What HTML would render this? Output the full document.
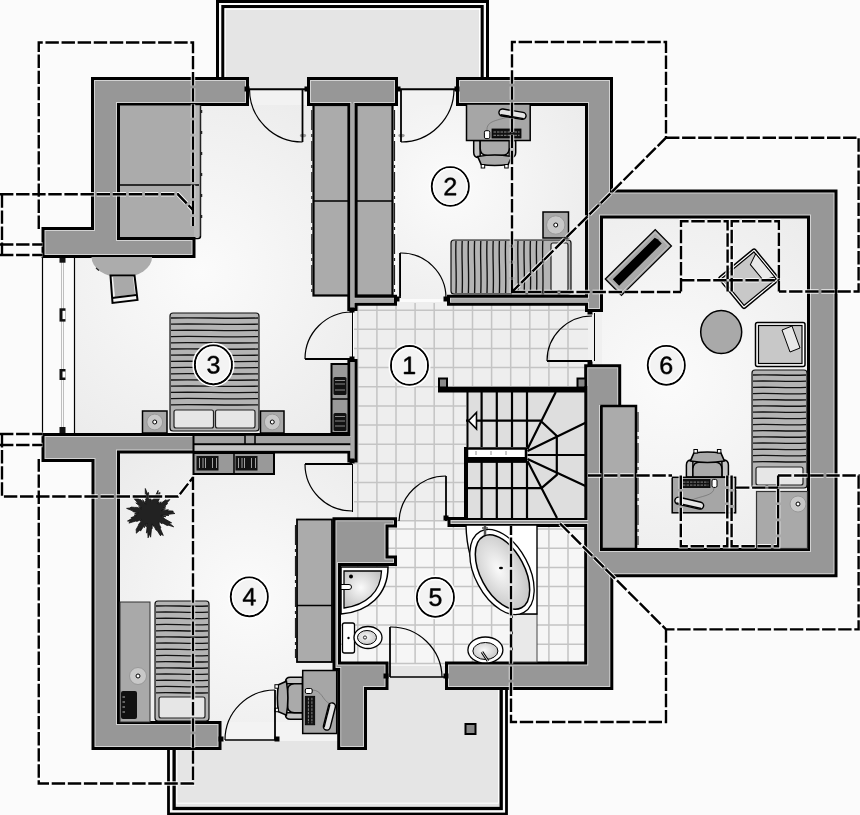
<!DOCTYPE html><html><head><meta charset="utf-8"><style>html,body{margin:0;padding:0;background:#fbfbfb;overflow:hidden;font-family:"Liberation Sans",sans-serif}svg{display:block}</style></head><body><svg width="860" height="815" viewBox="0 0 860 815">
<defs><radialGradient id="rg0" gradientUnits="userSpaceOnUse" cx="200" cy="272" r="210"><stop offset="0" stop-color="#fbfbfb"/><stop offset="0.25" stop-color="#f7f7f7"/><stop offset="1" stop-color="#ebebeb"/></radialGradient><radialGradient id="rg1" gradientUnits="userSpaceOnUse" cx="451" cy="186" r="160"><stop offset="0" stop-color="#fbfbfb"/><stop offset="0.25" stop-color="#f7f7f7"/><stop offset="1" stop-color="#ebebeb"/></radialGradient><radialGradient id="rg2" gradientUnits="userSpaceOnUse" cx="249" cy="597" r="190"><stop offset="0" stop-color="#fbfbfb"/><stop offset="0.25" stop-color="#f7f7f7"/><stop offset="1" stop-color="#ebebeb"/></radialGradient><radialGradient id="rg3" gradientUnits="userSpaceOnUse" cx="670" cy="380" r="220"><stop offset="0" stop-color="#fbfbfb"/><stop offset="0.25" stop-color="#f7f7f7"/><stop offset="1" stop-color="#ebebeb"/></radialGradient><radialGradient id="tub" cx="45%" cy="45%" r="60%"><stop offset="0" stop-color="#fafafa"/><stop offset="1" stop-color="#c4c4c4"/></radialGradient></defs>
<rect width="860" height="815" fill="#fbfbfb"/>
<rect x="217.5" y="1.5" width="270" height="90" fill="none" stroke="#000" stroke-width="3"/>
<rect x="222.8" y="6.5" width="259.4" height="95" fill="#e5e5e5" stroke="#000" stroke-width="3"/>
<rect x="168.5" y="650" width="338" height="164" fill="none" stroke="#000" stroke-width="2.8"/>
<rect x="174.1" y="650" width="327.1" height="158.5" fill="#e5e5e5" stroke="#000" stroke-width="3.3"/>
<rect x="176.8" y="650" width="321.7" height="153.2" fill="none" stroke="#fff" stroke-width="1"/>
<rect x="225.3" y="9.2" width="254.2" height="95" fill="none" stroke="#fff" stroke-width="1"/>
<rect x="117" y="103" width="235" height="332" fill="url(#rg0)"/>
<rect x="74" y="250" width="60" height="185" fill="url(#rg0)"/>
<rect x="397" y="103" width="192" height="196" fill="url(#rg1)"/>
<rect x="246" y="89" width="64" height="16" fill="#f2f2f2"/>
<rect x="395" y="89" width="64" height="16" fill="#f2f2f2"/>
<rect x="117" y="450" width="237" height="274" fill="url(#rg2)"/>
<rect x="219" y="722" width="125" height="19" fill="#f3f3f3"/>
<rect x="465.5" y="724" width="10" height="10" fill="#888" stroke="#000" stroke-width="2"/>
<rect x="598" y="214" width="214" height="338" fill="url(#rg3)"/>
<rect x="586" y="308" width="16" height="60" fill="#f0f0f0"/>
<rect x="354" y="302" width="234" height="222" fill="#eeeeee"/>
<rect x="338" y="520" width="250" height="146" fill="#f6f6f6"/>
<path d="M357.8,303V522 M376.9,303V522 M396.0,303V522 M415.1,303V522 M434.2,303V522 M453.4,303V522 M472.5,303V522 M491.6,303V522 M510.7,303V522 M529.8,303V522 M548.9,303V522 M568.0,303V522 M354,310.2H588 M354,329.3H588 M354,348.5H588 M354,367.6H588 M354,386.8H588 M354,405.9H588 M354,425.1H588 M354,444.2H588 M354,463.4H588 M354,482.5H588 M354,501.7H588 M354,520.8H588" stroke="#c4c4c4" stroke-width="1.5" fill="none"/>
<path d="M338.7,522V664 M357.8,522V664 M376.9,522V664 M396.0,522V664 M415.1,522V664 M434.2,522V664 M453.4,522V664 M472.5,522V664 M491.6,522V664 M510.7,522V664 M529.8,522V664 M548.9,522V664 M568.0,522V664 M338,529.0H588 M338,548.2H588 M338,567.4H588 M338,586.6H588 M338,605.8H588 M338,625.0H588 M338,644.2H588 M338,663.4H588" stroke="#c4c4c4" stroke-width="1.5" fill="none"/>
<path d="M42.5,255V434M74.5,255V434" stroke="#000" stroke-width="1.2" fill="none"/>
<path d="M61.5,258V432M63.5,258V432" stroke="#b0b0b0" stroke-width="0.8" fill="none"/>
<rect x="59.5" y="256" width="6" height="6.699999999999989" fill="#111"/>
<rect x="59.5" y="308.3" width="6" height="13.300000000000011" fill="#111"/>
<rect x="62.5" y="310.8" width="3" height="8.300000000000011" fill="#fff"/>
<rect x="59.5" y="369" width="6" height="11" fill="#111"/>
<rect x="62.5" y="371.5" width="3" height="6" fill="#fff"/>
<rect x="59.5" y="427" width="6" height="6" fill="#111"/>
<path d="M447.00,294.70L447.00,305.80L585.00,305.80L585.00,312.00L603.00,312.00L603.00,218.60L807.00,218.60L807.00,548.00L603.00,548.00L603.00,409.00L621.20,409.00L621.20,364.30L584.20,364.30L584.20,517.00L447.50,517.00L447.50,527.00L584.20,527.00L584.20,661.40L445.00,661.40L445.00,690.00L613.30,690.00L613.30,577.20L837.50,577.20L837.50,189.50L613.00,189.50L613.00,77.00L456.00,77.00L456.00,106.00L585.00,106.00L585.00,294.70ZM347.30,311.00L357.50,311.00L357.50,305.80L397.00,305.80L397.00,294.70L357.50,294.70L357.50,106.00L398.00,106.00L398.00,77.00L307.00,77.00L307.00,106.00L347.30,106.00ZM337.20,750.00L367.00,750.00L367.00,690.00L388.50,690.00L388.50,661.40L341.00,661.40L341.00,566.00L397.00,566.00L397.00,555.50L388.50,555.50L388.50,527.50L397.00,527.50L397.00,517.30L332.50,517.30L332.50,671.00L337.20,671.00ZM91.50,750.00L221.50,750.00L221.50,721.00L120.00,721.00L120.00,453.50L347.40,453.50L347.40,462.50L357.50,462.50L357.50,359.00L347.40,359.00L347.40,433.00L41.50,433.00L41.50,462.00L91.50,462.00ZM41.50,258.00L195.50,258.00L195.50,237.00L120.00,237.00L120.00,106.00L249.00,106.00L249.00,77.00L91.00,77.00L91.00,227.00L41.50,227.00Z" fill="#000" fill-rule="evenodd"/>
<path d="M350.30,308.00L354.50,308.00L354.50,302.80L394.00,302.80L394.00,297.70L354.50,297.70L354.50,103.00L395.00,103.00L395.00,80.00L310.00,80.00L310.00,103.00L350.30,103.00ZM44.50,255.00L192.50,255.00L192.50,240.00L117.00,240.00L117.00,103.00L246.00,103.00L246.00,80.00L94.00,80.00L94.00,230.00L44.50,230.00ZM450.00,297.70L450.00,302.80L588.00,302.80L588.00,309.00L600.00,309.00L600.00,215.60L810.00,215.60L810.00,551.00L600.00,551.00L600.00,406.00L618.20,406.00L618.20,367.30L587.20,367.30L587.20,520.00L450.50,520.00L450.50,524.00L587.20,524.00L587.20,664.40L448.00,664.40L448.00,687.00L610.30,687.00L610.30,574.20L834.50,574.20L834.50,192.50L610.00,192.50L610.00,80.00L459.00,80.00L459.00,103.00L588.00,103.00L588.00,297.70ZM94.50,747.00L218.50,747.00L218.50,724.00L117.00,724.00L117.00,450.50L350.40,450.50L350.40,459.50L354.50,459.50L354.50,362.00L350.40,362.00L350.40,436.00L44.50,436.00L44.50,459.00L94.50,459.00ZM340.20,747.00L364.00,747.00L364.00,687.00L385.50,687.00L385.50,664.40L338.00,664.40L338.00,563.00L394.00,563.00L394.00,558.50L385.50,558.50L385.50,524.50L394.00,524.50L394.00,520.30L335.50,520.30L335.50,668.00L340.20,668.00Z" fill="#d2d2d2" fill-rule="evenodd"/>
<path d="M451.00,298.70L451.00,301.80L589.00,301.80L589.00,308.00L599.00,308.00L599.00,214.60L811.00,214.60L811.00,552.00L599.00,552.00L599.00,405.00L617.20,405.00L617.20,368.30L588.20,368.30L588.20,521.00L451.50,521.00L451.50,523.00L588.20,523.00L588.20,665.40L449.00,665.40L449.00,686.00L609.30,686.00L609.30,573.20L833.50,573.20L833.50,193.50L609.00,193.50L609.00,81.00L460.00,81.00L460.00,102.00L589.00,102.00L589.00,298.70ZM351.30,307.00L353.50,307.00L353.50,301.80L393.00,301.80L393.00,298.70L353.50,298.70L353.50,102.00L394.00,102.00L394.00,81.00L311.00,81.00L311.00,102.00L351.30,102.00ZM341.20,746.00L363.00,746.00L363.00,686.00L384.50,686.00L384.50,665.40L337.00,665.40L337.00,562.00L393.00,562.00L393.00,559.50L384.50,559.50L384.50,523.50L393.00,523.50L393.00,521.30L336.50,521.30L336.50,667.00L341.20,667.00ZM95.50,746.00L217.50,746.00L217.50,725.00L116.00,725.00L116.00,449.50L351.40,449.50L351.40,458.50L353.50,458.50L353.50,363.00L351.40,363.00L351.40,437.00L45.50,437.00L45.50,458.00L95.50,458.00ZM45.50,254.00L191.50,254.00L191.50,241.00L116.00,241.00L116.00,102.00L245.00,102.00L245.00,81.00L95.00,81.00L95.00,231.00L45.50,231.00Z" fill="#979797" fill-rule="evenodd"/>
<rect x="193" y="436" width="157.4" height="14.5" fill="#a3a3a3"/>
<path d="M193,444.3H350.4" stroke="#000" stroke-width="2"/>
<rect x="193" y="445.5" width="157.4" height="5" fill="#c4c4c4"/>
<path d="M193.5,434V452" stroke="#000" stroke-width="2"/>
<rect x="245" y="435" width="10" height="9" fill="#a3a3a3" stroke="#000" stroke-width="1.5"/>
<rect x="350.8" y="104" width="3.4" height="204" fill="#a9a9a9"/>
<rect x="354" y="298.5" width="40" height="3.6" fill="#a9a9a9"/>
<rect x="451" y="298.5" width="137" height="3.6" fill="#a9a9a9"/>
<rect x="350.8" y="362" width="3.4" height="97" fill="#a9a9a9"/>
<rect x="120" y="105.5" width="80" height="131.5" fill="#ababab"/>
<rect x="194" y="105.5" width="6" height="131.5" fill="#b5b5b5"/>
<path d="M120,238.5H198Q200.5,238.5 200.5,236" stroke="#000" stroke-width="1.5" fill="none"/>
<path d="M120,185H199" stroke="#000" stroke-width="1.5"/>
<path d="M200.5,105V236" stroke="#222" stroke-width="1.5"/>
<path d="M201.5,110V236" stroke="#222" stroke-width="1.5" stroke-dasharray="3 18"/>
<rect x="313.5" y="105" width="35" height="190.5" fill="#ababab" stroke="#000" stroke-width="2.2"/>
<rect x="356.5" y="105" width="36" height="190.5" fill="#ababab" stroke="#000" stroke-width="2.2"/>
<path d="M313.5,201H348.5M356.5,201H392.5" stroke="#000" stroke-width="1.5"/>
<path d="M311.8,110V292M394.5,110V292" stroke="#222" stroke-width="1.2" stroke-dasharray="20 4 3 4"/>
<rect x="170" y="313" width="89" height="118" rx="3" fill="#b4b4b4" stroke="#111" stroke-width="1.2"/><path d="M171,318.0C196.7,317.2 223.4,318.8 258.0,318.0 M171,324.2C196.7,323.4 223.4,325.0 258.0,324.2 M171,330.4C196.7,329.6 223.4,331.2 258.0,330.4 M171,336.6C196.7,335.8 223.4,337.4 258.0,336.6 M171,342.8C196.7,342.0 223.4,343.6 258.0,342.8 M171,349.0C196.7,348.2 223.4,349.8 258.0,349.0 M171,355.2C196.7,354.4 223.4,356.0 258.0,355.2 M171,361.4C196.7,360.6 223.4,362.2 258.0,361.4 M171,367.6C196.7,366.8 223.4,368.4 258.0,367.6 M171,373.8C196.7,373.0 223.4,374.6 258.0,373.8 M171,380.0C196.7,379.2 223.4,380.8 258.0,380.0 M171,386.2C196.7,385.4 223.4,387.0 258.0,386.2 M171,392.4C196.7,391.6 223.4,393.2 258.0,392.4 M171,398.6C196.7,397.8 223.4,399.4 258.0,398.6 M171,404.8C196.7,404.0 223.4,405.6 258.0,404.8" stroke="#111" stroke-width="1.35" fill="none"/><rect x="174.0" y="410.0" width="39.5" height="18.0" rx="2" fill="#e6e6e6" stroke="#222" stroke-width="1.2"/><rect x="215.5" y="410.0" width="39.5" height="18.0" rx="2" fill="#e6e6e6" stroke="#222" stroke-width="1.2"/>
<rect x="142.5" y="411" width="24.5" height="22" fill="#a8a8a8" stroke="#000" stroke-width="1.5"/><circle cx="154.75" cy="422.0" r="7.9" fill="#c8c8c8" stroke="#999" stroke-width="1"/><circle cx="154.75" cy="422.0" r="2" fill="#fff" stroke="#000" stroke-width="1"/>
<rect x="260.5" y="411" width="23.5" height="22" fill="#a8a8a8" stroke="#000" stroke-width="1.5"/><circle cx="272.25" cy="422.0" r="7.9" fill="#c8c8c8" stroke="#999" stroke-width="1"/><circle cx="272.25" cy="422.0" r="2" fill="#fff" stroke="#000" stroke-width="1"/>
<rect x="331.5" y="364" width="17" height="69" fill="#999" stroke="#000" stroke-width="2"/>
<path d="M331.5,399H348.5" stroke="#000" stroke-width="1.5"/>
<rect x="333.5" y="377" width="13" height="18" rx="1.5" fill="#111"/>
<rect x="333.5" y="413" width="13" height="18" rx="1.5" fill="#111"/>
<path d="M335,380.5H345M335,384H345M335,390H345M335,416.5H345M335,421H345M335,426H345" stroke="#bbb" stroke-width="0.7"/>
<path d="M91.5,257A30.3,20.5 0 0 0 152.1,257Z" fill="#acacac"/>
<path d="M91.5,257A30.3,20.5 0 0 0 152.1,257" stroke="#222" stroke-width="1.2" fill="none" stroke-dasharray="0 12 4 18 3 12 4 40"/>
<path d="M110.5,275.5L134.5,275.5L137.5,300L112.5,303Z" fill="#f4f4f4" stroke="#000" stroke-width="2"/>
<path d="M113,277L133,277L135,294L115,297Z" fill="#a9a9a9"/>
<path d="M112,298L136,295" stroke="#000" stroke-width="1.8"/>
<g transform="translate(494.7 140.5) rotate(0)"><path d="M-21,0V12Q-21,17 -16,17H-14.5V0Z" fill="#c4c4c4" stroke="#000" stroke-width="1.5"/><path d="M21,0V12Q21,17 16,17H14.5V0Z" fill="#c4c4c4" stroke="#000" stroke-width="1.5"/><path d="M-14.5,0V8Q-14.5,15 -7,15H7Q14.5,15 14.5,8V0Z" fill="#aaa" stroke="#000" stroke-width="1.5"/><path d="M-17,16Q0,13 17,16L13.5,24Q0,26 -13.5,24Z" fill="#aaa" stroke="#000" stroke-width="1.6"/><rect x="-13.5" y="24" width="3.5" height="3.5" fill="#fff" stroke="#000" stroke-width="1"/><rect x="10" y="24" width="3.5" height="3.5" fill="#fff" stroke="#000" stroke-width="1"/></g>
<rect x="466.5" y="104" width="63.7" height="36.5" fill="#a6a6a6" stroke="#000" stroke-width="1.5"/>
<path d="M487,131C486,120 498,121 510,116" stroke="#666" stroke-width="0.6" fill="none"/>
<rect x="492" y="129" width="29" height="9" fill="#111" stroke="#000" stroke-width="0.8"/><path d="M493.5,132.0H519.5M493.5,135.3H519.5" stroke="#bbb" stroke-width="0.7" stroke-dasharray="2.5 1"/>
<rect x="484.4" y="130.7" width="5.4" height="7.9" rx="1.5" fill="#fff" stroke="#000" stroke-width="1"/>
<g transform="translate(512.5 114.2) rotate(9.5)"><rect x="-13.7" y="-3.5" width="27.4" height="7.0" rx="3.5" fill="#e4e4e4" stroke="#000" stroke-width="1.4"/><path d="M-11.7,2.5H11.7" stroke="#000" stroke-width="1.4"/></g>
<rect x="543" y="212" width="25.5" height="26" fill="#a8a8a8" stroke="#000" stroke-width="1.5"/><circle cx="555.75" cy="225.0" r="9.2" fill="#c8c8c8" stroke="#999" stroke-width="1"/><circle cx="555.75" cy="225.0" r="2" fill="#fff" stroke="#000" stroke-width="1"/>
<rect x="451" y="240" width="120" height="54" rx="3" fill="#b4b4b4" stroke="#111" stroke-width="1.2"/><path d="M456.0,241C455.2,256.2 456.8,272.4 456.0,293 M462.2,241C461.4,256.2 463.0,272.4 462.2,293 M468.4,241C467.6,256.2 469.2,272.4 468.4,293 M474.6,241C473.8,256.2 475.4,272.4 474.6,293 M480.8,241C480.0,256.2 481.6,272.4 480.8,293 M487.0,241C486.2,256.2 487.8,272.4 487.0,293 M493.2,241C492.4,256.2 494.0,272.4 493.2,293 M499.4,241C498.6,256.2 500.2,272.4 499.4,293 M505.6,241C504.8,256.2 506.4,272.4 505.6,293 M511.8,241C511.0,256.2 512.6,272.4 511.8,293 M518.0,241C517.2,256.2 518.8,272.4 518.0,293 M524.2,241C523.4,256.2 525.0,272.4 524.2,293 M530.4,241C529.6,256.2 531.2,272.4 530.4,293 M536.6,241C535.8,256.2 537.4,272.4 536.6,293 M542.8,241C542.0,256.2 543.6,272.4 542.8,293" stroke="#111" stroke-width="1.35" fill="none"/><rect x="551.0" y="243" width="17.0" height="48" rx="2" fill="#e6e6e6" stroke="#222" stroke-width="1.2"/>
<rect x="193.5" y="453" width="80.5" height="21" fill="#999" stroke="#000" stroke-width="2"/>
<path d="M234,453V474" stroke="#000" stroke-width="1.5"/>
<rect x="196.5" y="456" width="22" height="14.5" fill="#111"/>
<path d="M199.5,458V468M203.0,458V468M205.5,458V468M212.5,458V468M216.5,458V468" stroke="#ddd" stroke-width="0.7"/>
<rect x="235.5" y="456" width="22" height="14.5" fill="#111"/>
<path d="M238.5,458V468M242.0,458V468M244.5,458V468M251.5,458V468M255.5,458V468" stroke="#ddd" stroke-width="0.7"/>
<polygon points="174.9,513.5 167.4,514.4 169.0,515.4 161.3,515.2 165.9,516.7 160.5,516.2 163.9,517.8 164.5,518.8 171.6,522.8 169.0,522.9 173.7,526.8 168.7,525.3 167.1,525.5 162.1,522.8 162.1,523.8 158.6,521.5 159.4,523.3 159.0,523.9 160.9,527.7 160.0,527.9 163.3,535.5 161.0,534.0 160.6,535.9 157.0,530.3 156.0,530.1 154.0,526.1 153.3,526.2 152.2,523.9 152.2,528.4 151.4,529.7 150.6,537.2 149.5,533.8 148.1,537.8 147.7,531.8 146.4,533.0 147.2,526.1 146.3,526.9 147.0,523.0 144.3,527.7 145.4,523.7 140.5,531.1 139.9,530.0 136.3,533.2 136.3,531.2 136.1,529.6 138.2,525.9 138.8,524.1 141.7,520.7 140.1,521.1 141.2,519.6 136.9,521.4 135.9,521.0 128.9,523.1 130.3,521.3 127.5,521.0 131.8,518.5 131.1,517.6 136.3,515.8 134.1,515.2 137.7,514.2 134.7,513.5 138.4,512.9 132.9,511.6 132.1,510.6 126.6,508.4 130.0,508.0 131.0,507.1 134.7,507.4 136.9,507.4 141.4,508.8 138.7,506.7 141.3,507.5 135.8,502.8 138.8,503.9 133.8,498.4 134.8,497.7 134.0,495.1 139.3,499.5 140.5,499.5 144.1,503.4 142.6,499.7 145.9,504.2 145.1,501.1 146.2,501.9 144.8,495.7 145.3,493.6 145.3,488.5 147.5,493.8 148.4,492.4 149.9,499.7 150.6,497.5 151.2,501.4 152.1,499.5 152.6,500.7 153.9,498.1 155.3,495.9 158.1,490.4 157.9,494.4 160.0,492.4 159.5,496.1 160.5,496.4 157.3,503.2 159.1,501.8 158.3,503.9 161.1,501.8 160.0,504.1 165.9,499.7 166.8,500.4 169.8,499.6 167.1,502.8 167.5,503.8 163.6,506.9 165.9,506.7 162.4,509.0 165.4,508.7 161.1,510.7 168.4,509.7 167.4,510.8 173.2,511.1 172.8,512.3" fill="#222" stroke="#111" stroke-width="0.8"/>
<rect x="120" y="602" width="30" height="120" fill="#a9a9a9" stroke="#333" stroke-width="1"/>
<circle cx="138" cy="676" r="8.5" fill="#c8c8c8" stroke="#999" stroke-width="1"/><circle cx="138" cy="676" r="2" fill="#fff" stroke="#000" stroke-width="1"/>
<rect x="121" y="691" width="16" height="28" rx="2" fill="#111"/>
<path d="M122.5,697H125M122.5,702H125M122.5,707H125M122.5,712H125" stroke="#ddd" stroke-width="0.8"/>
<rect x="155" y="601" width="54" height="120" rx="3" fill="#b4b4b4" stroke="#111" stroke-width="1.2"/><path d="M156,606.0C171.2,605.2 187.4,606.8 208.0,606.0 M156,612.2C171.2,611.4 187.4,613.0 208.0,612.2 M156,618.4C171.2,617.6 187.4,619.2 208.0,618.4 M156,624.6C171.2,623.8 187.4,625.4 208.0,624.6 M156,630.8C171.2,630.0 187.4,631.6 208.0,630.8 M156,637.0C171.2,636.2 187.4,637.8 208.0,637.0 M156,643.2C171.2,642.4 187.4,644.0 208.0,643.2 M156,649.4C171.2,648.6 187.4,650.2 208.0,649.4 M156,655.6C171.2,654.8 187.4,656.4 208.0,655.6 M156,661.8C171.2,661.0 187.4,662.6 208.0,661.8 M156,668.0C171.2,667.2 187.4,668.8 208.0,668.0 M156,674.2C171.2,673.4 187.4,675.0 208.0,674.2 M156,680.4C171.2,679.6 187.4,681.2 208.0,680.4 M156,686.6C171.2,685.8 187.4,687.4 208.0,686.6 M156,692.8C171.2,692.0 187.4,693.6 208.0,692.8" stroke="#111" stroke-width="1.35" fill="none"/><rect x="159.0" y="697.0" width="46.0" height="21.0" rx="2" fill="#e6e6e6" stroke="#222" stroke-width="1.2"/>
<rect x="297" y="519.5" width="35" height="142.5" fill="#ababab" stroke="#000" stroke-width="1.8"/>
<path d="M297,605.6H332" stroke="#000" stroke-width="1.5"/>
<path d="M295.5,525V658" stroke="#222" stroke-width="1.2" stroke-dasharray="20 4 3 4"/>
<g transform="translate(302.4 698.2) rotate(90)"><path d="M-21,0V12Q-21,17 -16,17H-14.5V0Z" fill="#c4c4c4" stroke="#000" stroke-width="1.5"/><path d="M21,0V12Q21,17 16,17H14.5V0Z" fill="#c4c4c4" stroke="#000" stroke-width="1.5"/><path d="M-14.5,0V8Q-14.5,15 -7,15H7Q14.5,15 14.5,8V0Z" fill="#aaa" stroke="#000" stroke-width="1.5"/><path d="M-17,16Q0,13 17,16L13.5,24Q0,26 -13.5,24Z" fill="#aaa" stroke="#000" stroke-width="1.6"/><rect x="-13.5" y="24" width="3.5" height="3.5" fill="#fff" stroke="#000" stroke-width="1"/><rect x="10" y="24" width="3.5" height="3.5" fill="#fff" stroke="#000" stroke-width="1"/></g>
<rect x="302.7" y="670.5" width="34" height="63" fill="#a6a6a6" stroke="#000" stroke-width="1.5"/>
<path d="M312,690C322,690 322,700 330,704" stroke="#666" stroke-width="0.6" fill="none"/>
<rect x="305.3" y="696.3" width="9.4" height="28.5" fill="#111" stroke="#000" stroke-width="0.8"/><path d="M308.4,697.8V723.3M311.9,697.8V723.3" stroke="#bbb" stroke-width="0.7" stroke-dasharray="2.5 1"/>
<rect x="305.3" y="688.5" width="6.9" height="5" rx="1.5" fill="#fff" stroke="#000" stroke-width="1"/>
<g transform="translate(329.4 716.5) rotate(104.1)"><rect x="-13.9" y="-3.5" width="27.8" height="7.0" rx="3.5" fill="#e4e4e4" stroke="#000" stroke-width="1.4"/><path d="M-11.9,2.5H11.9" stroke="#000" stroke-width="1.4"/></g>
<path d="M341,567H388C388,595 368,612 341,614Z" fill="#fff" stroke="#000" stroke-width="1.5"/>
<path d="M344,571H381.5C381,592 366,605 344,608Z" fill="url(#tub)" stroke="#000" stroke-width="1.3"/>
<circle cx="351" cy="576.5" r="2" fill="#000"/>
<path d="M341,584.5H349A2.5,2.5 0 0 1 349,589.5H341Z" fill="#fff" stroke="#000" stroke-width="1"/>
<rect x="342.5" y="623" width="12" height="30" rx="2" fill="#fff" stroke="#000" stroke-width="1.3"/>
<ellipse cx="368" cy="637.5" rx="14" ry="11" fill="#fff" stroke="#000" stroke-width="1.3"/>
<ellipse cx="367" cy="637.5" rx="9.5" ry="7" fill="url(#tub)" stroke="#000" stroke-width="1"/>
<circle cx="348.5" cy="638" r="1.2" fill="#000"/><circle cx="365" cy="637.5" r="1.6" fill="none" stroke="#000" stroke-width="0.8"/>
<defs><clipPath id="tubclip"><rect x="466" y="525" width="71" height="91"/></clipPath></defs>
<rect x="512.5" y="614" width="24.5" height="48" fill="#e9e9e9" stroke="#444" stroke-width="1"/>
<path d="M466,525H537V614H512C490,600 467,572 466,525Z" fill="#fff" stroke="#000" stroke-width="1.4"/>
<g clip-path="url(#tubclip)"><ellipse cx="502" cy="572" rx="27" ry="46" transform="rotate(-28 502 572)" fill="#fff" stroke="#000" stroke-width="1.3"/></g>
<ellipse cx="502.5" cy="572" rx="22" ry="40.5" transform="rotate(-28 502.5 572)" fill="url(#tub)" stroke="#000" stroke-width="1.5"/>
<ellipse cx="501" cy="568" rx="2" ry="1.3" fill="#000"/>
<path d="M485,526V535" stroke="#555" stroke-width="2.5"/><path d="M482,528H488" stroke="#555" stroke-width="1.5"/>
<ellipse cx="485.4" cy="650" rx="17.5" ry="13" fill="#fff" stroke="#000" stroke-width="1.3"/>
<ellipse cx="485.4" cy="651" rx="12.5" ry="8.5" fill="url(#tub)" stroke="#000" stroke-width="1"/>
<path d="M482,652L488,661" stroke="#000" stroke-width="2.8"/><path d="M482,652L488,661" stroke="#ddd" stroke-width="1"/>
<rect x="601.5" y="406" width="34.5" height="143" fill="#ababab" stroke="#000" stroke-width="2.5"/>
<path d="M638,412V545" stroke="#222" stroke-width="1.2" stroke-dasharray="20 4 3 4"/>
<g transform="translate(638.35 262.45) rotate(-44.7)"><rect x="-35.15" y="-11.5" width="70.3" height="23" fill="#a9a9a9" stroke="#000" stroke-width="1.3"/><path d="M-30,-6H29L30,-3V3H-30Z" fill="#000"/><rect x="-33" y="-9.5" width="66" height="19" fill="none" stroke="#ddd" stroke-width="0.6"/></g>
<g transform="translate(749 278.7) rotate(50.5)"><rect x="-20.1" y="-23.4" width="40.2" height="46.8" rx="2" fill="#fff" stroke="#000" stroke-width="1.5"/><rect x="-17.5" y="-20.8" width="35" height="41.6" fill="#c8c8c8" stroke="#000" stroke-width="1.2"/><path d="M-15,-21L-10,-10L10,-10L15,-21Z" fill="#e8e8e8" stroke="#000" stroke-width="1"/></g>
<ellipse cx="721.2" cy="332.1" rx="20.5" ry="21.5" fill="#a9a9a9" stroke="#000" stroke-width="1.5"/>
<rect x="755.5" y="322.5" width="49.5" height="44" rx="2" fill="#fff" stroke="#000" stroke-width="1.5"/><rect x="758.5" y="325.5" width="43.5" height="38" fill="#c8c8c8" stroke="#000" stroke-width="1.2"/>
<path d="M782,330L792,326L800,348L790,352Z" fill="#e8e8e8" stroke="#000" stroke-width="1"/>
<rect x="752" y="370" width="55" height="118" rx="3" fill="#b4b4b4" stroke="#111" stroke-width="1.2"/><path d="M753,375.0C768.5,374.2 785.0,375.8 806.0,375.0 M753,381.2C768.5,380.4 785.0,382.0 806.0,381.2 M753,387.4C768.5,386.6 785.0,388.2 806.0,387.4 M753,393.6C768.5,392.8 785.0,394.4 806.0,393.6 M753,399.8C768.5,399.0 785.0,400.6 806.0,399.8 M753,406.0C768.5,405.2 785.0,406.8 806.0,406.0 M753,412.2C768.5,411.4 785.0,413.0 806.0,412.2 M753,418.4C768.5,417.6 785.0,419.2 806.0,418.4 M753,424.6C768.5,423.8 785.0,425.4 806.0,424.6 M753,430.8C768.5,430.0 785.0,431.6 806.0,430.8 M753,437.0C768.5,436.2 785.0,437.8 806.0,437.0 M753,443.2C768.5,442.4 785.0,444.0 806.0,443.2 M753,449.4C768.5,448.6 785.0,450.2 806.0,449.4 M753,455.6C768.5,454.8 785.0,456.4 806.0,455.6 M753,461.8C768.5,461.0 785.0,462.6 806.0,461.8" stroke="#111" stroke-width="1.35" fill="none"/><rect x="756.0" y="467.0" width="47.0" height="18.0" rx="2" fill="#e6e6e6" stroke="#222" stroke-width="1.2"/>
<rect x="756.5" y="491.5" width="51" height="57" fill="#a9a9a9" stroke="#333" stroke-width="1.2"/>
<circle cx="798" cy="504" r="8" fill="#c8c8c8" stroke="#999" stroke-width="1"/><circle cx="798" cy="504" r="2" fill="#fff" stroke="#000" stroke-width="1"/>
<g transform="translate(707.4 477) rotate(180)"><path d="M-21,0V12Q-21,17 -16,17H-14.5V0Z" fill="#c4c4c4" stroke="#000" stroke-width="1.5"/><path d="M21,0V12Q21,17 16,17H14.5V0Z" fill="#c4c4c4" stroke="#000" stroke-width="1.5"/><path d="M-14.5,0V8Q-14.5,15 -7,15H7Q14.5,15 14.5,8V0Z" fill="#aaa" stroke="#000" stroke-width="1.5"/><path d="M-17,16Q0,13 17,16L13.5,24Q0,26 -13.5,24Z" fill="#aaa" stroke="#000" stroke-width="1.6"/><rect x="-13.5" y="24" width="3.5" height="3.5" fill="#fff" stroke="#000" stroke-width="1"/><rect x="10" y="24" width="3.5" height="3.5" fill="#fff" stroke="#000" stroke-width="1"/></g>
<rect x="672.2" y="477.3" width="63.4" height="35.5" fill="#a6a6a6" stroke="#000" stroke-width="1.5"/>
<path d="M714,488C714,496 700,496 692,500" stroke="#666" stroke-width="0.6" fill="none"/>
<rect x="681.5" y="479.4" width="28.5" height="8.2" fill="#111" stroke="#000" stroke-width="0.8"/><path d="M683.0,482.1H708.5M683.0,485.1H708.5" stroke="#bbb" stroke-width="0.7" stroke-dasharray="2.5 1"/>
<rect x="712" y="479.4" width="5" height="8" rx="1.5" fill="#fff" stroke="#000" stroke-width="1"/>
<g transform="translate(689.3 503.2) rotate(12.8)"><rect x="-14.7" y="-3.5" width="29.3" height="7.0" rx="3.5" fill="#e4e4e4" stroke="#000" stroke-width="1.4"/><path d="M-12.7,2.5H12.7" stroke="#000" stroke-width="1.4"/></g>
<rect x="466" y="392" width="120" height="126" fill="#dedede"/>
<path d="M481.6,392V447M481.6,462V518 M496.8,392V447M496.8,462V518 M512,392V447M512,462V518 M527,392V447M527,462V518 M466,420.7H541M466,488.2H541.5" stroke="#000" stroke-width="2.2" fill="none"/>
<path d="M527.5,449L555.8,392 M527.5,451L586,422.6 M527.5,455H586 M527.5,459L586,486.3 M527.5,461L557,518 M540.6,420.7L556.8,435.9V474.9L541.5,488.2" stroke="#000" stroke-width="2.2" fill="none"/>
<path d="M466,447V518" stroke="#000" stroke-width="4"/>
<path d="M467.5,392V447" stroke="#000" stroke-width="2"/>
<rect x="467" y="448.5" width="59" height="13" fill="#fff" stroke="#000" stroke-width="2.5"/>
<rect x="466" y="457" width="61" height="5.5" fill="#000"/>
<path d="M476,451V455M491,451V455M506,451V455" stroke="#777" stroke-width="0.8"/>
<rect x="438" y="386.8" width="149" height="5.7" fill="#000"/>
<rect x="439" y="378.5" width="8" height="9" fill="#888" stroke="#000" stroke-width="2"/>
<rect x="577.5" y="378.5" width="8" height="9" fill="#888" stroke="#000" stroke-width="2"/>
<path d="M585.8,386V520" stroke="#000" stroke-width="3"/>
<path d="M468.5,420.7L476.5,412.5V429Z" fill="#fff" stroke="#000" stroke-width="1.6"/>
<path d="M249,89.3H305M398,89.3H456" stroke="#000" stroke-width="2"/>
<ellipse cx="303" cy="135.5" rx="3.2" ry="1.8" fill="#999"/><ellipse cx="401.5" cy="135.5" rx="3.2" ry="1.8" fill="#999"/>
<path d="M302.5,89L302.5,142" stroke="#000" stroke-width="1.8" fill="none"/><path d="M302.5,142A53,53 0 0 1 249.5,89" stroke="#000" stroke-width="1.2" fill="none"/>
<path d="M401,89L401,142" stroke="#000" stroke-width="1.8" fill="none"/><path d="M401,142A53,53 0 0 0 454,89" stroke="#000" stroke-width="1.2" fill="none"/>
<path d="M352,359L305,359" stroke="#000" stroke-width="1.8" fill="none"/><path d="M305,359A47,47 0 0 1 352,312" stroke="#000" stroke-width="1.2" fill="none"/>
<path d="M400,298L400,253" stroke="#000" stroke-width="1.8" fill="none"/><path d="M400,253A45,45 0 0 1 446,298" stroke="#000" stroke-width="1.2" fill="none"/>
<path d="M592,361L547,361" stroke="#000" stroke-width="1.8" fill="none"/><path d="M547,361A45,45 0 0 1 592,316" stroke="#000" stroke-width="1.2" fill="none"/>
<path d="M352,464L305,464" stroke="#000" stroke-width="1.8" fill="none"/><path d="M305,464A47,47 0 0 0 352,511" stroke="#000" stroke-width="1.2" fill="none"/>
<path d="M446,521L446,476" stroke="#000" stroke-width="1.8" fill="none"/><path d="M446,476A47,47 0 0 0 399,521" stroke="#000" stroke-width="1.2" fill="none"/>
<path d="M275,740L275,690" stroke="#000" stroke-width="1.8" fill="none"/><path d="M275,690A50,50 0 0 0 225,740" stroke="#000" stroke-width="1.2" fill="none"/>
<path d="M390,677L390,627" stroke="#000" stroke-width="1.8" fill="none"/><path d="M390,627A51,51 0 0 1 442,677" stroke="#000" stroke-width="1.2" fill="none"/>
<path d="M352.5,312V358M352.5,464V512M594.5,313V361M400.5,253V296" stroke="#000" stroke-width="1" fill="none"/>
<path d="M225,740H275M390,677H445" stroke="#000" stroke-width="1.5"/>
<rect x="349.5" y="307.5" width="5" height="5" fill="#000"/>
<rect x="349.5" y="356.5" width="5" height="5" fill="#000"/>
<rect x="349.5" y="458.5" width="5" height="5" fill="#000"/>
<rect x="244.5" y="86.5" width="5" height="5" fill="#000"/>
<rect x="395.5" y="86.5" width="5" height="5" fill="#000"/>
<rect x="454.5" y="86.5" width="5" height="5" fill="#000"/>
<rect x="304.5" y="86.5" width="5" height="5" fill="#000"/>
<rect x="443.5" y="296.5" width="5" height="5" fill="#000"/>
<rect x="394.5" y="296.5" width="5" height="5" fill="#000"/>
<rect x="587.5" y="309.5" width="5" height="5" fill="#000"/>
<rect x="587.5" y="361.5" width="5" height="5" fill="#000"/>
<rect x="218.5" y="736.5" width="5" height="5" fill="#000"/>
<rect x="274.5" y="736.5" width="5" height="5" fill="#000"/>
<rect x="443.5" y="515.5" width="5" height="5" fill="#000"/>
<rect x="383.5" y="673.5" width="5" height="5" fill="#000"/>
<rect x="443.5" y="673.5" width="5" height="5" fill="#000"/>
<path d="M38.75,229V42.5H193V226" stroke="#fff" stroke-opacity="0.85" stroke-width="4.4" fill="none" stroke-dasharray="13.4 2.7"/>
<path d="M0,194.3H178L193,210" stroke="#fff" stroke-opacity="0.85" stroke-width="4.4" fill="none" stroke-dasharray="13.4 2.7"/>
<path d="M2,194.3V255M0,244.5H42.5M0,255H42.5" stroke="#fff" stroke-opacity="0.85" stroke-width="4.4" fill="none" stroke-dasharray="13.4 2.7"/>
<path d="M0,434H42.5M0,445H42.5M2,434V496.5H178L193,477.5" stroke="#fff" stroke-opacity="0.85" stroke-width="4.4" fill="none" stroke-dasharray="13.4 2.7"/>
<path d="M193,476.7V783.5H38.75V459" stroke="#fff" stroke-opacity="0.85" stroke-width="4.4" fill="none" stroke-dasharray="13.4 2.7"/>
<path d="M512,293V42H666V137.7L512,292" stroke="#fff" stroke-opacity="0.85" stroke-width="4.4" fill="none" stroke-dasharray="13.4 2.7"/>
<path d="M666,137.7H858.6V291.5H779" stroke="#fff" stroke-opacity="0.85" stroke-width="4.4" fill="none" stroke-dasharray="13.4 2.7"/>
<path d="M512,292H681" stroke="#fff" stroke-opacity="0.85" stroke-width="4.4" fill="none" stroke-dasharray="13.4 2.7"/>
<path d="M681,291.5V221.3H727.6V291.5M731.7,291.5V221.3H778.9V291.5M681,280.2H778.9" stroke="#fff" stroke-opacity="0.85" stroke-width="4.4" fill="none" stroke-dasharray="13.4 2.7"/>
<path d="M588,475.5H672M778,475.5H858.6V629.4H666L558,521.5" stroke="#fff" stroke-opacity="0.85" stroke-width="4.4" fill="none" stroke-dasharray="13.4 2.7"/>
<path d="M666,629.4V722H511V526" stroke="#fff" stroke-opacity="0.85" stroke-width="4.4" fill="none" stroke-dasharray="13.4 2.7"/>
<path d="M680.8,475.5V546.2H727.3V475.5M731.6,475.5V546.2H778.1V475.5M736,487.6H778" stroke="#fff" stroke-opacity="0.85" stroke-width="4.4" fill="none" stroke-dasharray="13.4 2.7"/>
<path d="M38.75,229V42.5H193V226" stroke="#000" stroke-width="2.4" fill="none" stroke-dasharray="13.4 2.7"/>
<path d="M0,194.3H178L193,210" stroke="#000" stroke-width="2.4" fill="none" stroke-dasharray="13.4 2.7"/>
<path d="M2,194.3V255M0,244.5H42.5M0,255H42.5" stroke="#000" stroke-width="2.4" fill="none" stroke-dasharray="13.4 2.7"/>
<path d="M0,434H42.5M0,445H42.5M2,434V496.5H178L193,477.5" stroke="#000" stroke-width="2.4" fill="none" stroke-dasharray="13.4 2.7"/>
<path d="M193,476.7V783.5H38.75V459" stroke="#000" stroke-width="2.4" fill="none" stroke-dasharray="13.4 2.7"/>
<path d="M512,293V42H666V137.7L512,292" stroke="#000" stroke-width="2.4" fill="none" stroke-dasharray="13.4 2.7"/>
<path d="M666,137.7H858.6V291.5H779" stroke="#000" stroke-width="2.4" fill="none" stroke-dasharray="13.4 2.7"/>
<path d="M512,292H681" stroke="#000" stroke-width="2.4" fill="none" stroke-dasharray="13.4 2.7"/>
<path d="M681,291.5V221.3H727.6V291.5M731.7,291.5V221.3H778.9V291.5M681,280.2H778.9" stroke="#000" stroke-width="2.4" fill="none" stroke-dasharray="13.4 2.7"/>
<path d="M588,475.5H672M778,475.5H858.6V629.4H666L558,521.5" stroke="#000" stroke-width="2.4" fill="none" stroke-dasharray="13.4 2.7"/>
<path d="M666,629.4V722H511V526" stroke="#000" stroke-width="2.4" fill="none" stroke-dasharray="13.4 2.7"/>
<path d="M680.8,475.5V546.2H727.3V475.5M731.6,475.5V546.2H778.1V475.5M736,487.6H778" stroke="#000" stroke-width="2.4" fill="none" stroke-dasharray="13.4 2.7"/>
<ellipse cx="213.4" cy="364.8" rx="20.3" ry="21.2" fill="none" stroke="#fff" stroke-width="1.6"/>
<ellipse cx="213.4" cy="364.8" rx="18.5" ry="19.4" fill="#f3f3f3" stroke="#000" stroke-width="1.9"/>
<ellipse cx="213.4" cy="364.8" rx="16.8" ry="17.7" fill="none" stroke="#fff" stroke-width="1.4"/>
<path d="M1049 389Q1049 194 925.0 87.0Q801 -20 571 -20Q357 -20 229.5 76.5Q102 173 78 362L264 379Q300 129 571 129Q707 129 784.5 196.0Q862 263 862 395Q862 510 773.5 574.5Q685 639 518 639H416V795H514Q662 795 743.5 859.5Q825 924 825 1038Q825 1151 758.5 1216.5Q692 1282 561 1282Q442 1282 368.5 1221.0Q295 1160 283 1049L102 1063Q122 1236 245.5 1333.0Q369 1430 563 1430Q775 1430 892.5 1331.5Q1010 1233 1010 1057Q1010 922 934.5 837.5Q859 753 715 723V719Q873 702 961.0 613.0Q1049 524 1049 389Z" transform="translate(213.4,364.8) scale(0.01217,-0.01217) translate(-563.5,-705.0)" fill="#000" stroke="#000" stroke-width="45.2" stroke-linejoin="round"/>
<ellipse cx="450.3" cy="186.5" rx="20.3" ry="21.2" fill="none" stroke="#fff" stroke-width="1.6"/>
<ellipse cx="450.3" cy="186.5" rx="18.5" ry="19.4" fill="#f3f3f3" stroke="#000" stroke-width="1.9"/>
<ellipse cx="450.3" cy="186.5" rx="16.8" ry="17.7" fill="none" stroke="#fff" stroke-width="1.4"/>
<path d="M103 0V127Q154 244 227.5 333.5Q301 423 382.0 495.5Q463 568 542.5 630.0Q622 692 686.0 754.0Q750 816 789.5 884.0Q829 952 829 1038Q829 1154 761.0 1218.0Q693 1282 572 1282Q457 1282 382.5 1219.5Q308 1157 295 1044L111 1061Q131 1230 254.5 1330.0Q378 1430 572 1430Q785 1430 899.5 1329.5Q1014 1229 1014 1044Q1014 962 976.5 881.0Q939 800 865.0 719.0Q791 638 582 468Q467 374 399.0 298.5Q331 223 301 153H1036V0Z" transform="translate(450.3,186.5) scale(0.01217,-0.01217) translate(-569.5,-715.0)" fill="#000" stroke="#000" stroke-width="45.2" stroke-linejoin="round"/>
<ellipse cx="409.5" cy="365.4" rx="20.3" ry="21.2" fill="none" stroke="#fff" stroke-width="1.6"/>
<ellipse cx="409.5" cy="365.4" rx="18.5" ry="19.4" fill="#f3f3f3" stroke="#000" stroke-width="1.9"/>
<ellipse cx="409.5" cy="365.4" rx="16.8" ry="17.7" fill="none" stroke="#fff" stroke-width="1.4"/>
<path d="M156 0V153H515V1237L197 1010V1180L530 1409H696V153H1039V0Z" transform="translate(409.5,365.4) scale(0.01217,-0.01217) translate(-597.5,-704.5)" fill="#000" stroke="#000" stroke-width="45.2" stroke-linejoin="round"/>
<ellipse cx="249.3" cy="596.8" rx="20.3" ry="21.2" fill="none" stroke="#fff" stroke-width="1.6"/>
<ellipse cx="249.3" cy="596.8" rx="18.5" ry="19.4" fill="#f3f3f3" stroke="#000" stroke-width="1.9"/>
<ellipse cx="249.3" cy="596.8" rx="16.8" ry="17.7" fill="none" stroke="#fff" stroke-width="1.4"/>
<path d="M881 319V0H711V319H47V459L692 1409H881V461H1079V319ZM711 1206Q709 1200 683.0 1153.0Q657 1106 644 1087L283 555L229 481L213 461H711Z" transform="translate(249.3,596.8) scale(0.01217,-0.01217) translate(-563.0,-704.5)" fill="#000" stroke="#000" stroke-width="45.2" stroke-linejoin="round"/>
<ellipse cx="435.4" cy="597.3" rx="20.3" ry="21.2" fill="none" stroke="#fff" stroke-width="1.6"/>
<ellipse cx="435.4" cy="597.3" rx="18.5" ry="19.4" fill="#f3f3f3" stroke="#000" stroke-width="1.9"/>
<ellipse cx="435.4" cy="597.3" rx="16.8" ry="17.7" fill="none" stroke="#fff" stroke-width="1.4"/>
<path d="M1053 459Q1053 236 920.5 108.0Q788 -20 553 -20Q356 -20 235.0 66.0Q114 152 82 315L264 336Q321 127 557 127Q702 127 784.0 214.5Q866 302 866 455Q866 588 783.5 670.0Q701 752 561 752Q488 752 425.0 729.0Q362 706 299 651H123L170 1409H971V1256H334L307 809Q424 899 598 899Q806 899 929.5 777.0Q1053 655 1053 459Z" transform="translate(435.4,597.3) scale(0.01217,-0.01217) translate(-567.5,-694.5)" fill="#000" stroke="#000" stroke-width="45.2" stroke-linejoin="round"/>
<ellipse cx="666.3" cy="365.3" rx="20.3" ry="21.2" fill="none" stroke="#fff" stroke-width="1.6"/>
<ellipse cx="666.3" cy="365.3" rx="18.5" ry="19.4" fill="#f3f3f3" stroke="#000" stroke-width="1.9"/>
<ellipse cx="666.3" cy="365.3" rx="16.8" ry="17.7" fill="none" stroke="#fff" stroke-width="1.4"/>
<path d="M1049 461Q1049 238 928.0 109.0Q807 -20 594 -20Q356 -20 230.0 157.0Q104 334 104 672Q104 1038 235.0 1234.0Q366 1430 608 1430Q927 1430 1010 1143L838 1112Q785 1284 606 1284Q452 1284 367.5 1140.5Q283 997 283 725Q332 816 421.0 863.5Q510 911 625 911Q820 911 934.5 789.0Q1049 667 1049 461ZM866 453Q866 606 791.0 689.0Q716 772 582 772Q456 772 378.5 698.5Q301 625 301 496Q301 333 381.5 229.0Q462 125 588 125Q718 125 792.0 212.5Q866 300 866 453Z" transform="translate(666.3,365.3) scale(0.01217,-0.01217) translate(-576.5,-705.0)" fill="#000" stroke="#000" stroke-width="45.2" stroke-linejoin="round"/>
</svg></body></html>
